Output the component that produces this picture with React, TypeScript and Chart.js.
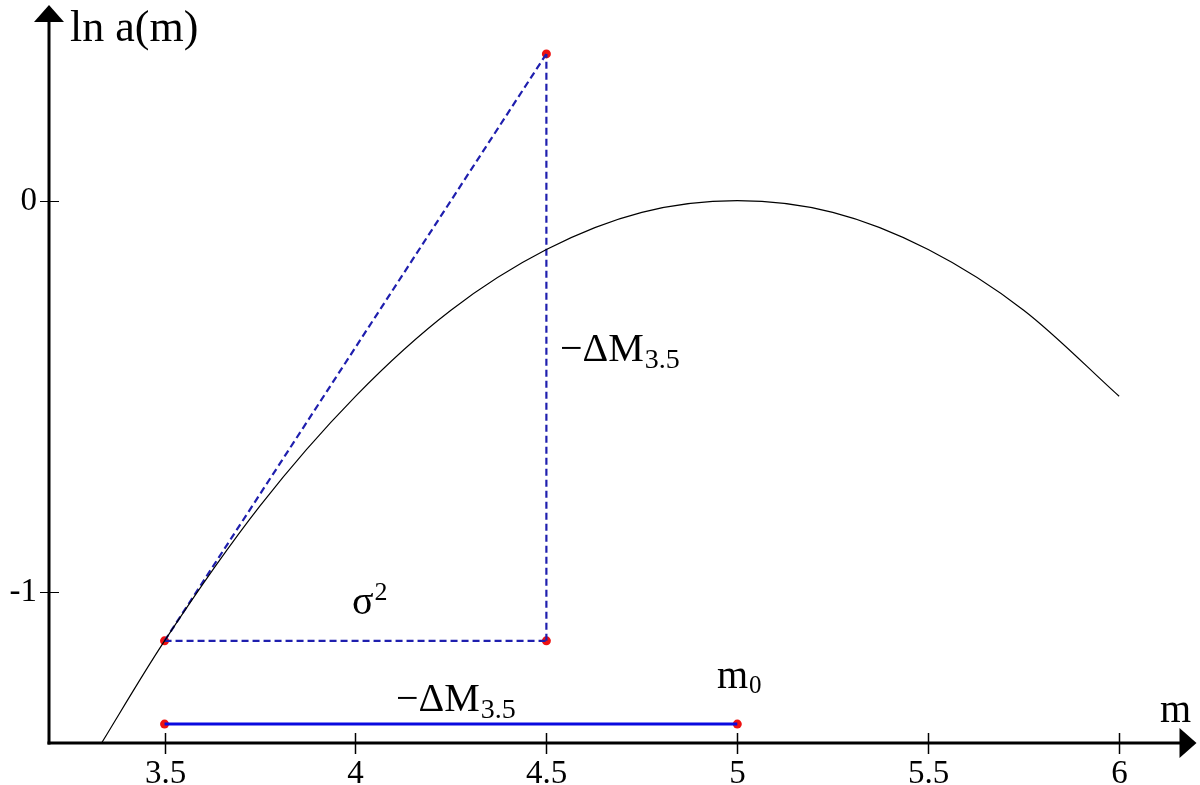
import React, { useEffect, useRef } from "react";
import { Chart, registerables } from "chart.js";

Chart.register(...registerables);

// Curve ln a(m)
const curveM = [3.32, 3.5, 3.75, 4.0, 4.25, 4.5, 4.75, 5.0, 5.25, 5.5, 5.75, 6.0];
const curveLnA = [-1.41, -1.125, -0.78, -0.5, -0.28, -0.125, -0.03, 0, -0.03, -0.125, -0.28, -0.5];

// Tangent at m = 3.5
const tangentM = [3.5, 4.5];
const tangentLnA = [-1.125, 0.375];

// Vertical dashed leg
const verticalM = [4.5, 4.5];
const verticalLnA = [-1.125, 0.375];

// Horizontal dashed leg (sigma^2)
const horizontalM = [3.5, 4.5];
const horizontalLnA = [-1.125, -1.125];

// Solid blue segment (-ΔM3.5)
const segmentM = [3.5, 5.0];
const segmentLnA = [-1.3376, -1.3376];

// Red markers
const markerM = [3.5, 4.5, 4.5, 3.5, 5.0];
const markerLnA = [-1.125, -1.125, 0.375, -1.3376, -1.3376];

// Ticks
const xTicks = [3.5, 4, 4.5, 5, 5.5, 6];
const xTickLabels = ["3.5", "4", "4.5", "5", "5.5", "6"];
const yTicks = [0, -1];
const yTickLabels = ["0", "-1"];

const X_MIN = 3.2;
const X_MAX = 6.2;
const Y_MIN = -1.386;
const Y_MAX = 0.5;

const pts = (xs: number[], ys: number[]) => xs.map((x, i) => ({ x, y: ys[i] }));

const SERIF = "'Liberation Serif', 'Times New Roman', serif";
const DASH_BLUE = "#1f1fae";

const axesPlugin = {
  id: "customAxes",
  beforeDatasetsDraw(chart: any) {
    const { ctx, chartArea, scales } = chart;
    const xs = scales.x;
    const ys = scales.y;
    const left = chartArea.left - 1;
    const bottom = chartArea.bottom;
    ctx.save();
    ctx.strokeStyle = "#000";
    ctx.fillStyle = "#000";
    // y axis
    ctx.lineWidth = 3;
    ctx.beginPath();
    ctx.moveTo(left, bottom + 1.5);
    ctx.lineTo(left, chartArea.top + 14);
    ctx.stroke();
    // y arrow
    ctx.beginPath();
    ctx.moveTo(left, chartArea.top);
    ctx.lineTo(left - 15, chartArea.top + 17);
    ctx.lineTo(left + 15, chartArea.top + 17);
    ctx.closePath();
    ctx.fill();
    // x axis
    ctx.beginPath();
    ctx.moveTo(left - 1.5, bottom);
    ctx.lineTo(chartArea.right - 12, bottom);
    ctx.stroke();
    // x arrow
    ctx.beginPath();
    ctx.moveTo(chartArea.right + 1, bottom);
    ctx.lineTo(chartArea.right - 16, bottom - 15);
    ctx.lineTo(chartArea.right - 16, bottom + 15);
    ctx.closePath();
    ctx.fill();

    // x ticks
    ctx.lineWidth = 1.5;
    ctx.font = `33px ${SERIF}`;
    ctx.textAlign = "center";
    ctx.textBaseline = "alphabetic";
    xTicks.forEach((v, i) => {
      const px = Math.round(xs.getPixelForValue(v)) + 0.5;
      ctx.beginPath();
      ctx.moveTo(px, bottom - 10);
      ctx.lineTo(px, bottom + 11);
      ctx.stroke();
      ctx.fillText(xTickLabels[i], px, 783);
    });
    // y ticks
    ctx.lineWidth = 1;
    ctx.textAlign = "right";
    ctx.textBaseline = "middle";
    yTicks.forEach((v, i) => {
      const py = Math.round(ys.getPixelForValue(v)) + 0.5;
      ctx.beginPath();
      ctx.moveTo(left - 9, py);
      ctx.lineTo(left + 10, py);
      ctx.stroke();
      ctx.fillText(yTickLabels[i], 37, py);
    });
    ctx.restore();
  },
  afterDatasetsDraw(chart: any) {
    const { ctx } = chart;
    ctx.save();
    ctx.fillStyle = "#000";
    ctx.textBaseline = "alphabetic";
    ctx.textAlign = "left";
    const big = `40px ${SERIF}`;
    const sub = `28px ${SERIF}`;

    const withSub = (main: string, subText: string, x: number, y: number, subDy: number, supFont = sub) => {
      ctx.font = big;
      ctx.fillText(main, x, y);
      const w = ctx.measureText(main).width;
      ctx.font = supFont;
      ctx.fillText(subText, x + w + 1, y + subDy);
    };

    ctx.font = `44px ${SERIF}`;
    ctx.fillText("ln a(m)", 70, 41);
    withSub("\u03c3", "2", 352, 614, -14, `26px ${SERIF}`);
    withSub("\u2212\u0394M", "3.5", 560, 361, 7);
    withSub("\u2212\u0394M", "3.5", 396, 711, 7);
    withSub("m", "0", 717, 688, 5, `25px ${SERIF}`);
    ctx.font = big;
    ctx.fillText("m", 1160, 722);
    ctx.restore();
  },
};

export default function App() {
  const canvasRef = useRef<HTMLCanvasElement | null>(null);

  useEffect(() => {
    if (!canvasRef.current) return;
    const chart = new Chart(canvasRef.current, {
      type: "line",
      data: {
        datasets: [
          {
            label: "ln a(m)",
            data: pts(curveM, curveLnA),
            borderColor: "#000",
            borderWidth: 1.2,
            pointRadius: 0,
            cubicInterpolationMode: "monotone",
            fill: false,
          },
          {
            label: "tangent",
            data: pts(tangentM, tangentLnA),
            borderColor: DASH_BLUE,
            borderWidth: 2.2,
            borderDash: [7, 4],
            pointRadius: 0,
            fill: false,
          },
          {
            label: "vertical",
            data: pts(verticalM, verticalLnA),
            borderColor: DASH_BLUE,
            borderWidth: 2.2,
            borderDash: [7, 4],
            pointRadius: 0,
            fill: false,
          },
          {
            label: "horizontal",
            data: pts(horizontalM, horizontalLnA),
            borderColor: DASH_BLUE,
            borderWidth: 2.2,
            borderDash: [7, 4],
            pointRadius: 0,
            fill: false,
          },
          {
            label: "segment",
            data: pts(segmentM, segmentLnA),
            borderColor: "#0a0ae0",
            borderWidth: 3,
            pointRadius: 0,
            fill: false,
          },
          {
            label: "markers",
            data: pts(markerM, markerLnA),
            showLine: false,
            pointRadius: 4.5,
            pointBackgroundColor: "#ee1111",
            pointBorderWidth: 0,
            borderColor: "#ee1111",
          },
        ],
      },
      options: {
        animation: false,
        responsive: false,
        events: [],
        layout: { padding: { left: 50, right: 1, top: 5, bottom: 42 } },
        plugins: {
          legend: { display: false },
          tooltip: { enabled: false },
        },
        scales: {
          x: { type: "linear", min: X_MIN, max: X_MAX, display: false },
          y: { type: "linear", min: Y_MIN, max: Y_MAX, display: false },
        },
      },
      plugins: [axesPlugin],
    });
    return () => chart.destroy();
  }, []);

  return (
    <div style={{ position: "absolute", left: 0, top: 0, width: 1200, height: 785, background: "#fff" }}>
      <canvas ref={canvasRef} width={1200} height={785} style={{ display: "block" }} />
    </div>
  );
}
